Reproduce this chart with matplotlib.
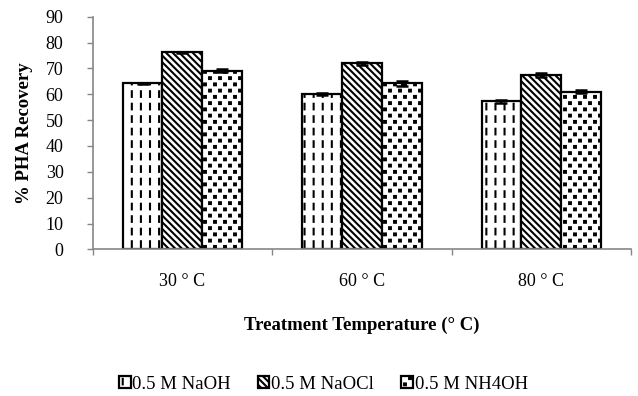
import numpy as np
import matplotlib
matplotlib.use("Agg")
import matplotlib.pyplot as plt
import matplotlib.hatch as mhatch
from matplotlib.path import Path

#==============================
#            DATA
#==============================
temps = ["30 ° C", "60 ° C", "80 ° C"]
series = ["0.5 M NaOH", "0.5 M NaOCl", "0.5 M NH4OH"]
naoh = [64.2, 60.0, 57.2]
naocl = [76.2, 72.0, 67.3]
nh4oh = [69.1, 64.2, 60.9]
naoh_err = [0.3, 0.3, 0.5]
naocl_err = [0.3, 0.6, 0.8]
nh4oh_err = [0.6, 1.0, 0.6]


#==============================
#   CUSTOM HATCHES (excel-ish)
#==============================
class DashedVertical(mhatch.HatchPatternBase):
    # '|' -> columns of short vertical dashes
    def __init__(self, hatch, density):
        n = hatch.count('|')
        self.nx = 11 * n
        self.ny = 8 * n
        self.num_vertices = self.nx * self.ny * 2

    def set_vertices_and_codes(self, vertices, codes):
        xs = (np.arange(self.nx) + 0.5) / self.nx
        ys = np.arange(self.ny) / self.ny
        X, Y = np.meshgrid(xs, ys)
        X = X.ravel()
        Y = Y.ravel()
        vertices[0::2, 0] = X
        vertices[0::2, 1] = Y + 0.25 / self.ny
        vertices[1::2, 0] = X
        vertices[1::2, 1] = Y + 0.70 / self.ny
        codes[0::2] = Path.MOVETO
        codes[1::2] = Path.LINETO


class SquareDots(mhatch.HatchPatternBase):
    # '.' -> staggered small filled squares
    def __init__(self, hatch, density):
        n = hatch.count('.')
        self.nx = 10 * n
        self.ny = 16 * n
        nsq = (self.ny // 2) * self.nx + (self.ny // 2) * (self.nx + 1)
        self.num_vertices = nsq * 5 if n else 0

    def set_vertices_and_codes(self, vertices, codes):
        h = 0.009
        sq = np.array([[-h, -h], [h, -h], [h, h], [-h, h], [-h, -h]])
        parts = []
        for j in range(self.ny):
            y = (j + 0.5) / self.ny
            if j % 2 == 0:
                cols = (np.arange(self.nx) + 0.5) / self.nx
            else:
                cols = np.arange(self.nx + 1) / self.nx
            for x in cols:
                parts.append(sq + [x, y])
        vertices[:] = np.concatenate(parts)
        sqc = [Path.MOVETO, Path.LINETO, Path.LINETO, Path.LINETO, Path.CLOSEPOLY]
        codes[:] = np.tile(sqc, len(parts))


mhatch._hatch_types = [DashedVertical, SquareDots] + [
    t for t in mhatch._hatch_types
    if t not in (mhatch.VerticalHatch, mhatch.SmallFilledCircles)]


#==============================
#            PLOT
#==============================
plt.rcParams['font.family'] = ['Liberation Serif', 'DejaVu Serif']
plt.rcParams['hatch.linewidth'] = 1.5

fig = plt.figure(figsize=(6.38, 3.96), dpi=100)
ax = fig.add_axes([0.1453, 0.370, 0.8437, 0.588])

x = np.arange(len(temps))
w = 0.222
styles = [('|', naoh, naoh_err), ('\\' * 5, naocl, naocl_err), ('.', nh4oh, nh4oh_err)]
for i, (hat, vals, err) in enumerate(styles):
    ax.bar(x + (i - 1) * w, vals, w, color='white', edgecolor='black',
           linewidth=1.6, hatch=hat, label=series[i],
           yerr=err, error_kw=dict(ecolor='black', elinewidth=1.5,
                                   capsize=4, capthick=1.8))

ax.set_xlim(-0.5, 2.5)
ax.set_ylim(0, 90)
ax.set_yticks(np.arange(0, 91, 10))
ax.set_xticks(x)
ax.set_xticklabels(temps)
ax.set_xticks([-0.5, 0.5, 1.5, 2.5], minor=True)
ax.tick_params(axis='x', which='major', length=0, pad=17, labelsize=13)
ax.tick_params(axis='x', which='minor', length=4, width=1, color='#868686', direction='out')
ax.tick_params(axis='y', length=4, width=1, color='#868686', pad=17, labelsize=13)

for s in ['top', 'right']:
    ax.spines[s].set_visible(False)
for s in ['left', 'bottom']:
    ax.spines[s].set_color('#868686')
    ax.spines[s].set_linewidth(1.2)

ax.set_xlabel("Treatment Temperature (° C)", fontweight='bold', fontsize=13.5, labelpad=19)
ax.set_ylabel("% PHA Recovery", fontweight='bold', fontsize=13.5)
ax.yaxis.set_label_coords(-0.111, 0.5)

fig.legend(loc='center', bbox_to_anchor=(0.507, 0.03), ncol=3, frameon=False,
           fontsize=13.5, handlelength=0.6, handleheight=0.6, handletextpad=0.1,
           columnspacing=1.45)

fig.savefig("out.png", dpi=100)
